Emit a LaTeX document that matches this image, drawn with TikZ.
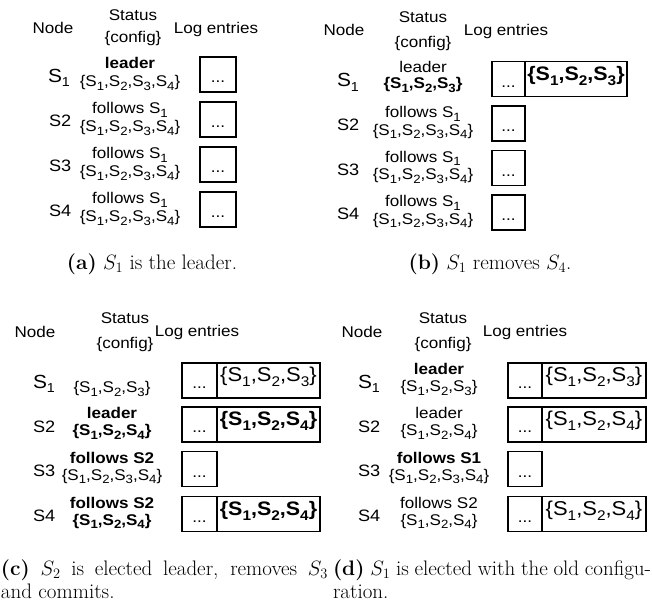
\documentclass[tikz,border=0pt]{standalone}
\usepackage{fontspec}
\usepackage{graphicx}
\newfontfamily\af[FakeStretch=1.1]{Liberation Sans}
\newcommand\stS[1]{S\raisebox{-3.5pt}{\fontsize{12}{12}\selectfont #1}}
\newcommand\bxS[1]{S\raisebox{-5pt}{\fontsize{14}{14}\selectfont #1}}
\newcommand\lbS[1]{S\raisebox{-4.5pt}{\fontsize{13}{13}\selectfont #1}}
\tikzset{
  every node/.style={inner sep=0pt, outer sep=0pt},
  hdr/.style={font=\af\fontsize{15.5}{18}\selectfont, anchor=base},
  lbl/.style={font=\af\fontsize{16.5}{18}\selectfont, anchor=base west},
  lbla/.style={font=\af\fontsize{19}{20}\selectfont, anchor=base west},
  st/.style={font=\af\fontsize{15.5}{18}\selectfont, anchor=base},
  stb/.style={font=\af\bfseries\fontsize{15.5}{18}\selectfont, anchor=base},
  sbox/.style={draw, line width=1.6pt, font=\af\fontsize{15.5}{18}\selectfont,
    text height=16pt, text depth=0pt, minimum height=35pt},
  cbox/.style={draw, line width=1.6pt, font=\af\fontsize{20}{22}\selectfont,
    text height=12pt, text depth=10pt, minimum height=35pt, anchor=west},
  cboxb/.style={cbox, font=\af\bfseries\fontsize{19.5}{22}\selectfont},
  captxt/.style={font=\fontsize{21}{24}\selectfont, anchor=base},
}
\begin{document}
\begin{tikzpicture}[x=1pt, y=-1pt]
\useasboundingbox (0,0) rectangle (652,605);

% ---------------- Panel (a) ----------------
\node[hdr] (aNode) at (53,33) {Node};
\node[hdr] (aStatus) at (133,20) {Status};
\node[hdr] (aConfig) at (133,42.5) {\{config\}};
\node[hdr] (aLog) at (216,33) {Log entries};

\node[lbla] (aS1) at (48,82) {\lbS{1}};
\node[lbl] (aS2) at (49,126.5) {S2};
\node[lbl] (aS3) at (49,171.5) {S3};
\node[lbl] (aS4) at (49,216.5) {S4};

\node[stb] (aT1) at (130,68) {leader};
\node[st] (aC1) at (130,86.5) {\{\stS1,\stS2,\stS3,\stS4\}};
\node[st] (aT2) at (130,113.5) {follows \stS1};
\node[st] (aC2) at (130,131.5) {\{\stS1,\stS2,\stS3,\stS4\}};
\node[st] (aT3) at (130,158.5) {follows \stS1};
\node[st] (aC3) at (130,176.5) {\{\stS1,\stS2,\stS3,\stS4\}};
\node[st] (aT4) at (130,203.5) {follows \stS1};
\node[st] (aC4) at (130,221.5) {\{\stS1,\stS2,\stS3,\stS4\}};

\node[sbox, minimum width=36pt] (aB1) at (218,74.5) {...};
\node[sbox, minimum width=36pt] (aB2) at (218,119.5) {...};
\node[sbox, minimum width=36pt] (aB3) at (218,164.5) {...};
\node[sbox, minimum width=36pt] (aB4) at (218,209.5) {...};

\node[captxt] (aCap) at (152,269) {\textbf{(a)} $S_1$ is the leader.};

% ---------------- Panel (b) ----------------
\node[hdr] (bNode) at (344,35.5) {Node};
\node[hdr] (bStatus) at (423,22) {Status};
\node[hdr] (bConfig) at (423,47.5) {\{config\}};
\node[hdr] (bLog) at (506,35.5) {Log entries};

\node[lbla] (bS1) at (337,86.5) {\lbS{1}};
\node[lbl] (bS2) at (337,130.5) {S2};
\node[lbl] (bS3) at (337,175) {S3};
\node[lbl] (bS4) at (337,219.5) {S4};

\node[st] (bT1) at (423,72) {leader};
\node[stb] (bC1) at (423,88.5) {\{\stS1,\stS2,\stS3\}};
\node[st] (bT2) at (423,117.5) {follows \stS1};
\node[st] (bC2) at (423,135) {\{\stS1,\stS2,\stS3,\stS4\}};
\node[st] (bT3) at (423,162) {follows \stS1};
\node[st] (bC3) at (423,179.5) {\{\stS1,\stS2,\stS3,\stS4\}};
\node[st] (bT4) at (423,206.5) {follows \stS1};
\node[st] (bC4) at (423,224) {\{\stS1,\stS2,\stS3,\stS4\}};

\node[sbox, minimum width=33pt] (bB1) at (508.5,79) {...};
\node[cboxb, minimum width=102pt] (bE1) at (bB1.east) {\{\bxS1,\bxS2,\bxS3\}};
\node[sbox, minimum width=33pt] (bB2) at (508.5,123.5) {...};
\node[sbox, minimum width=33pt] (bB3) at (508.5,168) {...};
\node[sbox, minimum width=33pt] (bB4) at (508.5,212.5) {...};

\node[captxt] (bCap) at (490,269) {\textbf{(b)} $S_1$ removes $S_4$.};

% ---------------- Panel (c) ----------------
\node[hdr] (cNode) at (35,337) {Node};
\node[hdr] (cStatus) at (125,323) {Status};
\node[hdr] (cConfig) at (125,348) {\{config\}};
\node[hdr] (cLog) at (197,336) {Log entries};

\node[lbla] (cS1) at (33,388) {\lbS{1}};
\node[lbl] (cS2) at (33,432) {S2};
\node[lbl] (cS3) at (33,476.5) {S3};
\node[lbl] (cS4) at (33,521.5) {S4};

\node[st] (cC1) at (112,392.5) {\{\stS1,\stS2,\stS3\}};
\node[stb] (cT2) at (112,418.5) {leader};
\node[stb] (cC2) at (112,435.5) {\{\stS1,\stS2,\stS4\}};
\node[stb] (cT3) at (112,463) {follows S2};
\node[st] (cC3) at (112,480) {\{\stS1,\stS2,\stS3,\stS4\}};
\node[stb] (cT4) at (112,508) {follows S2};
\node[stb] (cC4) at (112,525) {\{\stS1,\stS2,\stS4\}};

\node[sbox, minimum width=35pt] (cB1) at (199.5,380.5) {...};
\node[cbox, minimum width=103pt] (cE1) at (cB1.east) {\{\bxS1,\bxS2,\bxS3\}};
\node[sbox, minimum width=35pt] (cB2) at (199.5,424.5) {...};
\node[cboxb, minimum width=103pt] (cE2) at (cB2.east) {\{\bxS1,\bxS2,\bxS4\}};
\node[sbox, minimum width=35pt] (cB3) at (199.5,469) {...};
\node[sbox, minimum width=35pt] (cB4) at (199.5,514) {...};
\node[cboxb, minimum width=103pt] (cE4) at (cB4.east) {\{\bxS1,\bxS2,\bxS4\}};

\node[captxt, anchor=base west] (cCap1) at (1,575)
  {\makebox[327pt][s]{\textbf{(c)} $S_2$ is elected leader, removes $S_3$}};
\node[captxt, anchor=base west] (cCap2) at (1,598) {and commits.};

% ---------------- Panel (d) ----------------
\node[hdr] (dNode) at (362,337) {Node};
\node[hdr] (dStatus) at (443,323) {Status};
\node[hdr] (dConfig) at (443,348) {\{config\}};
\node[hdr] (dLog) at (525,336) {Log entries};

\node[lbla] (dS1) at (358,388) {\lbS{1}};
\node[lbl] (dS2) at (358,432) {S2};
\node[lbl] (dS3) at (358,476.5) {S3};
\node[lbl] (dS4) at (358,521.5) {S4};

\node[stb] (dT1) at (439,374.5) {leader};
\node[st] (dC1) at (439,391.5) {\{\stS1,\stS2,\stS3\}};
\node[st] (dT2) at (439,418.5) {leader};
\node[st] (dC2) at (439,435.5) {\{\stS1,\stS2,\stS4\}};
\node[stb] (dT3) at (439,463) {follows S1};
\node[st] (dC3) at (439,480) {\{\stS1,\stS2,\stS3,\stS4\}};
\node[st] (dT4) at (439,508) {follows S2};
\node[st] (dC4) at (439,525) {\{\stS1,\stS2,\stS4\}};

\node[sbox, minimum width=34pt] (dB1) at (525,380.5) {...};
\node[cbox, minimum width=104pt] (dE1) at (dB1.east) {\{\bxS1,\bxS2,\bxS3\}};
\node[sbox, minimum width=34pt] (dB2) at (525,424.5) {...};
\node[cbox, minimum width=104pt] (dE2) at (dB2.east) {\{\bxS1,\bxS2,\bxS4\}};
\node[sbox, minimum width=34pt] (dB3) at (525,469) {...};
\node[sbox, minimum width=34pt] (dB4) at (525,514) {...};
\node[cbox, minimum width=104pt] (dE4) at (dB4.east) {\{\bxS1,\bxS2,\bxS4\}};

\node[captxt, anchor=base west] (dCap1) at (333,575)
  {\makebox[318pt][s]{\textbf{(d)} $S_1$ is elected with the old configu-}};
\node[captxt, anchor=base west] (dCap2) at (333,598) {ration.};
\end{tikzpicture}
\end{document}
